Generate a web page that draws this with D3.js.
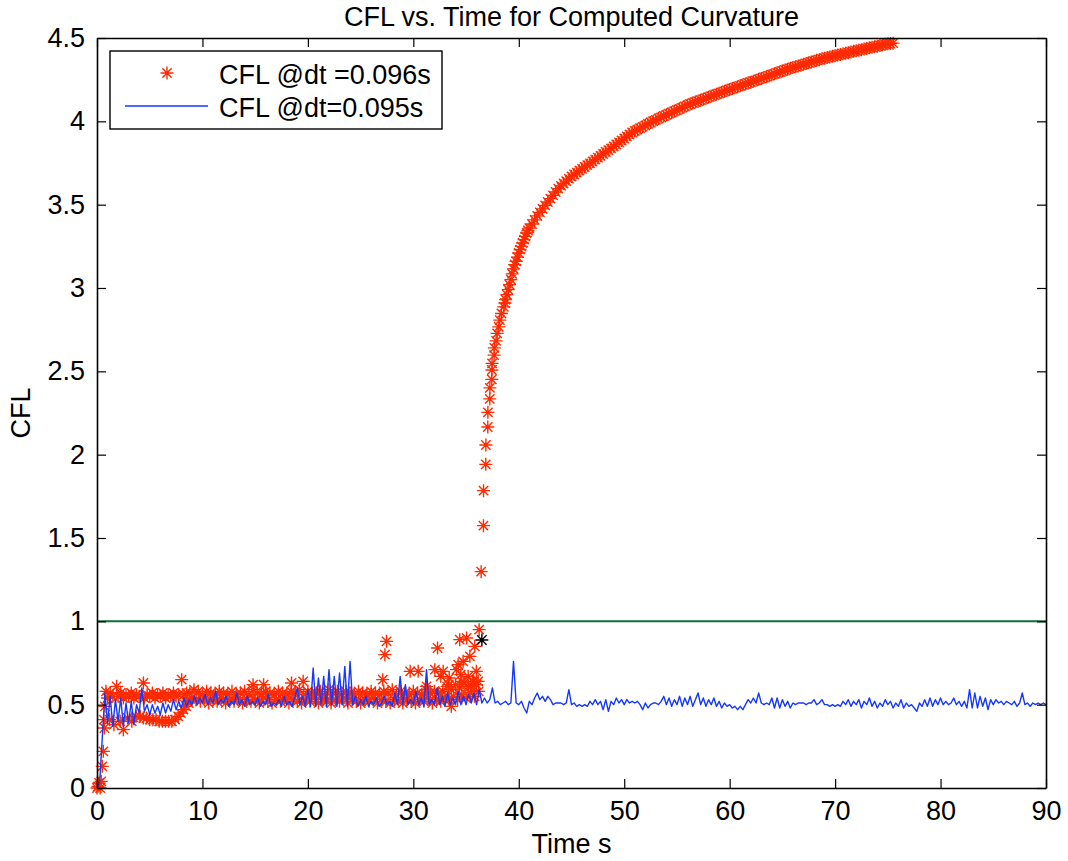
<!DOCTYPE html>
<html>
<head>
<meta charset="utf-8">
<script src="https://cdn.jsdelivr.net/npm/d3@7"></script>
<style>
  body { margin: 0; background: #fff; }
  svg text { font-family: "Liberation Sans", Arial, Helvetica, sans-serif; fill: #000; }
</style>
</head>
<body>
<div id="chart"></div>
<script>
// CFL vs. time, two time steps.

const xTicks = [0, 10, 20, 30, 40, 50, 60, 70, 80, 90];
const yTicks = [0, 0.5, 1, 1.5, 2, 2.5, 3, 3.5, 4, 4.5];
const yTickLabels = ['0', '0.5', '1', '1.5', '2', '2.5', '3', '3.5', '4', '4.5'];

const LIMIT = 1;  // CFL = 1 reference line

// dt = 0.096 s run: start-up, two branches (t < 8.7)
const redStartTime = [
  0.00, 0.10, 0.20, 0.30, 0.40, 0.50, 0.60, 0.65, 0.70, 0.75, 0.85,
  1.0, 1.25, 1.5, 1.86, 2.0, 2.25, 2.5, 2.75, 3.0, 3.25, 3.5, 3.75, 4.0, 4.4,
  4.5, 4.75, 5.0, 5.25, 5.5, 5.75, 6.0, 6.25, 6.5, 6.75, 7.0, 7.25, 7.5, 7.75,
  8.03, 8.25, 8.5,
  1.2, 1.6, 2.2, 2.5, 2.9, 3.3, 3.7, 4.1, 4.4, 4.7, 5.0, 5.3, 5.6, 5.9, 6.2,
  6.5, 6.8, 7.1, 7.4, 7.7, 7.95, 8.2, 8.45, 8.7
];
const redStartCfl = [
  0.00, 0.01, 0.03, 0.00, 0.04, 0.13, 0.22, 0.41, 0.36, 0.49, 0.58,
  0.54, 0.57, 0.55, 0.61, 0.55, 0.57, 0.54, 0.56, 0.55, 0.57, 0.54, 0.56, 0.55, 0.63,
  0.54, 0.56, 0.55, 0.57, 0.54, 0.56, 0.55, 0.57, 0.54, 0.56, 0.55, 0.57, 0.55, 0.56,
  0.65, 0.56, 0.57,
  0.41, 0.38, 0.40, 0.35, 0.42, 0.40, 0.43, 0.43, 0.42, 0.42, 0.41, 0.41, 0.41, 0.40, 0.40,
  0.40, 0.40, 0.40, 0.41, 0.43, 0.45, 0.47, 0.49, 0.51
];

// dt = 0.096 s run: steady band, one value every 0.2 s from t = 8.6 to 36.2
const BAND_T0 = 8.6, BAND_DT = 0.2;
const redBandCfl = [
  0.52,0.57,0.54,0.59,0.53,0.58,0.52,0.56,0.54,0.58,0.51,0.57,0.53,0.56,0.52,0.58,0.54,0.57,0.51,0.56,
  0.53,0.58,0.52,0.56,0.54,0.57,0.51,0.58,0.53,0.56,0.52,0.59,0.53,0.57,0.51,0.56,0.54,0.58,0.52,0.57,
  0.51,0.56,0.53,0.58,0.52,0.57,0.54,0.56,0.51,0.58,0.53,0.57,0.52,0.59,0.51,0.56,0.53,0.58,0.52,0.57,
  0.54,0.57,0.51,0.58,0.53,0.56,0.52,0.59,0.51,0.57,0.53,0.58,0.52,0.56,0.54,0.58,0.51,0.57,0.53,0.56,
  0.52,0.58,0.51,0.57,0.53,0.56,0.52,0.58,0.54,0.57,0.51,0.56,0.53,0.58,0.52,0.57,0.51,0.59,0.53,0.56,
  0.52,0.58,0.51,0.57,0.53,0.56,0.52,0.58,0.51,0.57,0.53,0.56,0.52,0.59,0.54,0.57,0.51,0.58,0.53,0.57,
  0.52,0.58,0.54,0.61,0.53,0.59,0.55,0.62,0.53,0.60,0.56,0.63,0.54,0.61,0.57,0.64,0.55,0.62,0.58
];

// dt = 0.096 s run: scattered points above/below the band
const redOutTime = [
  14.8, 15.8, 18.45, 19.55, 27.1, 27.3, 27.46, 29.7, 30.46, 31.25, 32.04, 32.3,
  32.6, 32.83, 33.35, 33.4, 33.6, 34.1, 34.25, 34.4, 34.5, 34.6, 34.72, 35.05,
  35.2, 35.36, 35.5, 35.7, 35.83, 35.98, 36.15, 36.24
];
const redOutCfl = [
  0.62, 0.62, 0.63, 0.64, 0.65, 0.80, 0.88, 0.70, 0.70, 0.61, 0.71, 0.84,
  0.67, 0.70, 0.62, 0.66, 0.49, 0.71, 0.74, 0.89, 0.68, 0.64, 0.76, 0.90,
  0.67, 0.79, 0.61, 0.64, 0.85, 0.70, 0.64, 0.95
];

// dt = 0.096 s run: blow-up, first points
const redJumpTime = [
  36.43, 36.65, 36.66, 36.87, 36.88, 37.06, 37.07, 37.25, 37.26, 37.44, 37.45,
  37.47, 37.66, 37.68, 37.85, 37.95, 38.1, 38.2, 38.36, 38.58,
  38.7, 38.87, 39.12, 39.37, 39.62, 39.87, 40.12, 40.37, 40.62, 40.87
];
const redJumpCfl = [
  1.298, 1.574, 1.784, 1.942, 2.058, 2.166, 2.254, 2.335, 2.401, 2.452, 2.508,
  2.548, 2.597, 2.641, 2.683, 2.728, 2.767, 2.807, 2.847, 2.887,
  2.91, 2.96, 3.02, 3.085, 3.14, 3.185, 3.23, 3.27, 3.31, 3.345
];

// dt = 0.096 s run: blow-up, one value every 0.25 s from t = 38.75 to 75.5
const GROW_T0 = 38.75, GROW_DT = 0.25;
const redGrowCfl = [
  2.93, 2.99, 3.05, 3.115, 3.16, 3.21, 3.25, 3.29, 3.33, 3.359, 3.384, 3.409,
  3.433, 3.454, 3.475, 3.496, 3.516, 3.536, 3.556, 3.576, 3.596, 3.613, 3.627, 3.641,
  3.655, 3.669, 3.681, 3.692, 3.704, 3.715, 3.726, 3.737, 3.748, 3.759, 3.77, 3.782,
  3.793, 3.804, 3.816, 3.827, 3.838, 3.85, 3.861, 3.873, 3.885, 3.897, 3.909, 3.921,
  3.933, 3.942, 3.95, 3.959, 3.967, 3.976, 3.985, 3.993, 4.001, 4.009, 4.017, 4.024,
  4.032, 4.039, 4.046, 4.053, 4.061, 4.068, 4.075, 4.082, 4.09, 4.097, 4.104, 4.11,
  4.116, 4.121, 4.127, 4.133, 4.139, 4.145, 4.151, 4.157, 4.163, 4.168, 4.174, 4.18,
  4.186, 4.191, 4.197, 4.202, 4.208, 4.213, 4.219, 4.224, 4.23, 4.235, 4.241, 4.246,
  4.252, 4.257, 4.263, 4.268, 4.274, 4.28, 4.285, 4.291, 4.296, 4.302, 4.308, 4.313,
  4.318, 4.323, 4.328, 4.332, 4.337, 4.342, 4.347, 4.351, 4.356, 4.361, 4.366, 4.37,
  4.375, 4.379, 4.383, 4.386, 4.39, 4.394, 4.398, 4.401, 4.405, 4.408, 4.412, 4.416,
  4.42, 4.423, 4.427, 4.43, 4.434, 4.437, 4.441, 4.444, 4.448, 4.451, 4.455, 4.458,
  4.462, 4.465, 4.467, 4.469
];

// marked point (black asterisk)
const markTime = [36.5];
const markCfl = [0.888];

// dt = 0.095 s run, one value every 0.25 s
const BLUE_T0 = 0, BLUE_DT = 0.25;
const blueCfl = [
  0.00,0.03,0.30,0.57,0.39,0.55,0.37,0.53,0.40,0.54,0.37,0.51,0.39,0.52,0.38,0.50,0.45,0.60,0.46,0.50, // 0-5
  0.44,0.50,0.45,0.49,0.44,0.51,0.45,0.50,0.46,0.53,0.47,0.52,0.48,0.54,0.49,0.53,0.50,0.55,0.50,0.54, // 5-10
  0.51,0.56,0.50,0.54,0.51,0.58,0.50,0.53,0.51,0.55,0.49,0.52,0.50,0.57,0.50,0.53,0.49,0.55,0.50,0.52, // 10-15
  0.50,0.54,0.49,0.52,0.50,0.56,0.49,0.51,0.50,0.53,0.49,0.55,0.50,0.52,0.49,0.54,0.60,0.50,0.55,0.49, // 15-20
  0.59,0.49,0.72,0.49,0.66,0.50,0.67,0.49,0.71,0.50,0.67,0.49,0.69,0.50,0.73,0.49,0.76,0.50,0.55,0.49, // 20-25
  0.53,0.50,0.55,0.49,0.52,0.50,0.54,0.49,0.51,0.55,0.50,0.52,0.49,0.57,0.50,0.67,0.50,0.62,0.50,0.53, // 25-30
  0.50,0.58,0.50,0.54,0.49,0.71,0.50,0.53,0.50,0.60,0.50,0.55,0.49,0.57,0.50,0.54,0.50,0.58,0.50,0.55, // 30-35
  0.50,0.56,0.51,0.57,0.50,0.59,0.51,0.54,0.51,0.53,0.60,0.51,0.52,0.50,0.51,0.52,0.50,0.51,0.76,0.51, // 35-40
  0.50,0.52,0.48,0.45,0.52,0.50,0.54,0.57,0.53,0.55,0.52,0.55,0.53,0.50,0.51,0.51,0.51,0.50,0.51,0.59, // 40-45
  0.50,0.51,0.49,0.50,0.49,0.50,0.49,0.52,0.50,0.53,0.50,0.52,0.47,0.53,0.46,0.52,0.50,0.54,0.51,0.53, // 45-50
  0.50,0.53,0.51,0.52,0.51,0.52,0.50,0.47,0.51,0.48,0.50,0.51,0.51,0.50,0.52,0.55,0.50,0.54,0.49,0.53, // 50-55
  0.50,0.55,0.49,0.54,0.50,0.55,0.49,0.53,0.57,0.50,0.54,0.49,0.53,0.50,0.54,0.49,0.52,0.48,0.51,0.49, // 55-60
  0.50,0.48,0.49,0.47,0.49,0.47,0.50,0.53,0.51,0.54,0.51,0.57,0.51,0.50,0.51,0.50,0.54,0.48,0.54,0.48, // 60-65
  0.53,0.49,0.52,0.48,0.51,0.50,0.51,0.51,0.51,0.50,0.51,0.51,0.53,0.50,0.51,0.53,0.50,0.50,0.49,0.50, // 65-70
  0.49,0.50,0.49,0.52,0.50,0.53,0.49,0.52,0.50,0.53,0.48,0.52,0.50,0.54,0.49,0.52,0.48,0.51,0.49,0.53, // 70-75
  0.50,0.52,0.48,0.51,0.49,0.53,0.48,0.51,0.49,0.50,0.48,0.46,0.51,0.49,0.53,0.49,0.54,0.49,0.53,0.50, // 75-80
  0.54,0.50,0.52,0.50,0.51,0.54,0.50,0.52,0.49,0.52,0.48,0.59,0.48,0.57,0.48,0.55,0.49,0.54,0.47,0.53, // 80-85
  0.50,0.53,0.51,0.52,0.50,0.52,0.51,0.50,0.52,0.49,0.51,0.57,0.50,0.51,0.49,0.51,0.50,0.51,0.50,0.51, // 85-90
  0.50
];

const COLORS = {
  red: '#ff2a00',
  blue: '#1438ff',
  green: '#0f6e37',
  axis: '#000'
};

const width = 1068, height = 861;
const margin = { top: 38, right: 22, bottom: 73, left: 97 };
const innerW = width - margin.left - margin.right;
const innerH = height - margin.top - margin.bottom;
const FONT = 27;

const svg = d3.select('#chart').append('svg')
  .attr('width', width).attr('height', height);

const g = svg.append('g').attr('transform', `translate(${margin.left},${margin.top})`);

const x = d3.scaleLinear().domain([0, 90]).range([0, innerW]);
const y = d3.scaleLinear().domain([0, 4.5]).range([innerH, 0]);

// asterisk marker like MATLAB '*'
function starPath(r) {
  const d = r * 0.72;
  return `M${-r},0H${r}M0,${-r}V${r}M${-d},${-d}L${d},${d}M${-d},${d}L${d},${-d}`;
}
const STAR = starPath(6.5);

const pairs = (ts, vs) => ts.map((t, i) => [t, vs[i]]);
const redPts = [].concat(
  pairs(redStartTime, redStartCfl),
  redBandCfl.map((v, i) => [BAND_T0 + i * BAND_DT, v]),
  pairs(redOutTime, redOutCfl),
  pairs(redJumpTime, redJumpCfl),
  redGrowCfl.map((v, i) => [GROW_T0 + i * GROW_DT, v])
);
const bluePts = blueCfl.map((v, i) => [BLUE_T0 + i * BLUE_DT, v]);

// red series first (drawn underneath)
g.append('g').attr('class', 'red-stars')
  .selectAll('path').data(redPts).join('path')
    .attr('transform', d => `translate(${x(d[0])},${y(d[1])})`)
    .attr('d', STAR)
    .attr('fill', 'none')
    .attr('stroke', COLORS.red)
    .attr('stroke-width', 1.4);

const line = d3.line().x(d => x(d[0])).y(d => y(d[1]));
g.append('path')
  .datum(bluePts)
  .attr('d', line)
  .attr('fill', 'none')
  .attr('stroke', COLORS.blue)
  .attr('stroke-width', 1.4)
  .attr('stroke-linejoin', 'round');

g.append('line')
  .attr('x1', x(0)).attr('x2', x(90))
  .attr('y1', y(LIMIT)).attr('y2', y(LIMIT))
  .attr('stroke', COLORS.green)
  .attr('stroke-width', 2);

g.append('g').selectAll('path').data(pairs(markTime, markCfl)).join('path')
  .attr('transform', d => `translate(${x(d[0])},${y(d[1])})`)
  .attr('d', STAR)
  .attr('fill', 'none')
  .attr('stroke', '#000')
  .attr('stroke-width', 1.4);

// axes, MATLAB box style: inward ticks on all four sides
function styleAxis(sel) {
  sel.select('.domain').attr('stroke', COLORS.axis).attr('stroke-width', 1.6);
  sel.selectAll('.tick line').attr('stroke', COLORS.axis).attr('stroke-width', 1.2);
  sel.selectAll('.tick text').attr('font-size', FONT).attr('font-family', null).attr('fill', '#000');
}

g.append('g').attr('transform', `translate(0,${innerH})`)
  .call(d3.axisBottom(x).tickValues(xTicks).tickSize(-9).tickSizeOuter(0).tickPadding(13))
  .call(styleAxis);
g.append('g')
  .call(d3.axisTop(x).tickValues(xTicks).tickSize(-9).tickSizeOuter(0).tickFormat(''))
  .call(styleAxis);
g.append('g')
  .call(d3.axisLeft(y).tickValues(yTicks).tickSize(-9).tickSizeOuter(0).tickPadding(12)
    .tickFormat((d, i) => yTickLabels[i]))
  .call(styleAxis);
g.append('g').attr('transform', `translate(${innerW},0)`)
  .call(d3.axisRight(y).tickValues(yTicks).tickSize(-9).tickSizeOuter(0).tickFormat(''))
  .call(styleAxis);

// titles
svg.append('text')
  .attr('x', margin.left + innerW / 2).attr('y', 26)
  .attr('text-anchor', 'middle').attr('font-size', FONT)
  .text('CFL vs. Time for Computed Curvature');
svg.append('text')
  .attr('x', margin.left + innerW / 2).attr('y', 853)
  .attr('text-anchor', 'middle').attr('font-size', FONT)
  .text('Time s');
svg.append('text')
  .attr('transform', `translate(30,${margin.top + innerH / 2}) rotate(-90)`)
  .attr('text-anchor', 'middle').attr('font-size', FONT)
  .text('CFL');

// legend
const legend = svg.append('g').attr('transform', 'translate(110,51)');
legend.append('rect')
  .attr('width', 332).attr('height', 78)
  .attr('fill', '#fff').attr('stroke', '#000').attr('stroke-width', 1.4);
legend.append('path')
  .attr('transform', 'translate(57,22)')
  .attr('d', STAR).attr('fill', 'none')
  .attr('stroke', COLORS.red).attr('stroke-width', 1.4);
legend.append('line')
  .attr('x1', 15).attr('x2', 98).attr('y1', 55).attr('y2', 55)
  .attr('stroke', COLORS.blue).attr('stroke-width', 1.4);
legend.append('text').attr('x', 109).attr('y', 33).attr('font-size', FONT)
  .text('CFL @dt =0.096s');
legend.append('text').attr('x', 109).attr('y', 66).attr('font-size', FONT)
  .text('CFL @dt=0.095s');
</script>
</body>
</html>
